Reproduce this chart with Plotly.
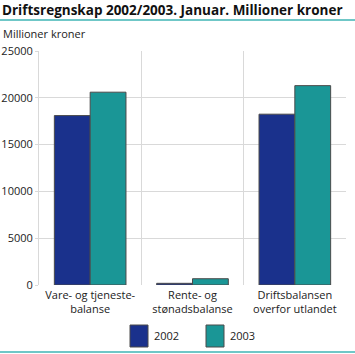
import plotly.graph_objects as go

categories = ["Vare- og tjeneste-<br>balanse", "Rente- og<br>stønadsbalanse", "Driftsbalansen<br>overfor utlandet"]
series_names = ["2002", "2003"]
values_2002 = [18100, 180, 18250]
values_2003 = [20600, 670, 21300]
y_ticks = [0, 5000, 10000, 15000, 20000, 25000]
y_ticktext = ["0", "5000", "10000", "15000", "20000", "25000"]
colors = ["#1a318c", "#1a9696"]

FONT = "Open Sans"
fig = go.Figure()
for name, vals, col in zip(series_names, [values_2002, values_2003], colors):
    fig.add_trace(go.Bar(x=categories, y=vals, name=name, marker=dict(color=col, line=dict(color="#4a4a4a", width=1)),
                         showlegend=False))

fig.update_layout(
    width=355, height=354,
    margin=dict(l=39, r=9, t=51, b=69),
    paper_bgcolor="white", plot_bgcolor="white",
    barmode="group", bargap=0.3, bargroupgap=0,
    font=dict(family=FONT, size=11, color="#333333"),
    xaxis=dict(tickson="boundaries", showgrid=True, gridcolor="#d9d9d9", gridwidth=1, ticks="", ticklen=0,
               tickangle=0, automargin=False, ticklabelstandoff=2,
               showline=False, tickfont=dict(size=11, color="#222222")),
    yaxis=dict(range=[0, 25000], tickvals=y_ticks, ticktext=y_ticktext, showgrid=True, gridcolor="#d9d9d9", gridwidth=1,
               showline=True, linecolor="#d9d9d9", zeroline=False, ticks="outside", ticklen=3, tickcolor="#d9d9d9",
               automargin=False, tickfont=dict(size=11, color="#222222")),
)

# title & axis label
fig.add_annotation(text="<b>Driftsregnskap 2002/2003. Januar. Millioner kroner</b>", xref="paper", yref="paper",
                   x=-39/307, y=1 + 41/234, xanchor="left", yanchor="middle", showarrow=False,
                   font=dict(size=13.5, color="#111111", family=FONT))
fig.add_annotation(text="Millioner kroner", xref="paper", yref="paper",
                   x=-38/307, y=1 + 18/234, xanchor="left", yanchor="middle", showarrow=False,
                   font=dict(size=11, color="#222222", family=FONT))
# teal rules
fig.add_shape(type="line", xref="paper", yref="paper", x0=-39/307, x1=1 + 9/307, y0=1 + 31/234, y1=1 + 31/234,
              line=dict(color="#3fb5b5", width=1.5))
fig.add_shape(type="line", xref="paper", yref="paper", x0=-39/307, x1=1 + 9/307, y0=-67/234, y1=-67/234,
              line=dict(color="#3fb5b5", width=1.5))

# custom legend
leg_x = [130, 206]
for name, col, lx in zip(series_names, colors, leg_x):
    fig.add_shape(type="rect", xref="paper", yref="paper",
                  x0=(lx - 39) / 307, x1=(lx + 18 - 39) / 307,
                  y0=(285 - 347) / 234, y1=(285 - 325) / 234,
                  fillcolor=col, line=dict(color="#4a4a4a", width=1))
    fig.add_annotation(text=name, xref="paper", yref="paper", x=(lx + 22 - 39) / 307, y=(285 - 335) / 234,
                       xanchor="left", yanchor="middle", showarrow=False, font=dict(size=11, color="#222222"))

fig.write_html("out.html")
